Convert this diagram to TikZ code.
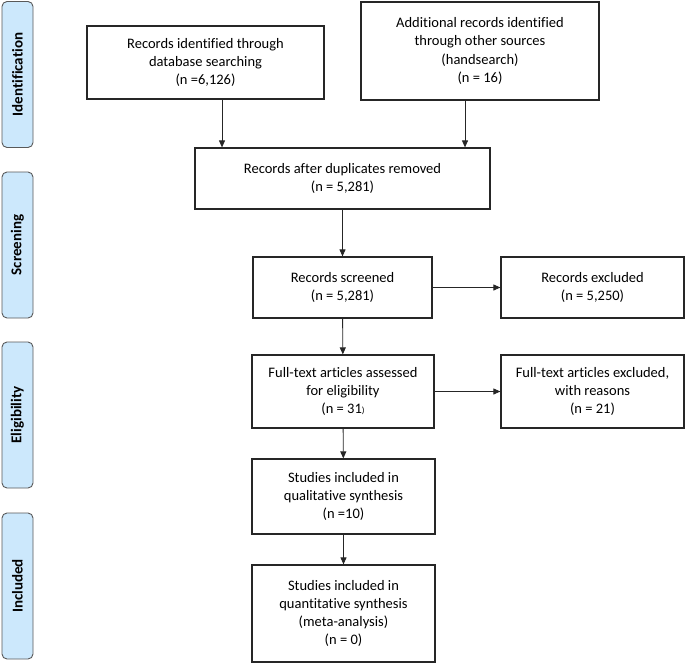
\documentclass[tikz,border=0pt]{standalone}
\usepackage{fontspec}
\setmainfont[RawFeature={-liga;-dlig;-calt}]{Carlito}
\usetikzlibrary{arrows.meta}
\definecolor{phaseblue}{RGB}{204,232,252}

\begin{document}
\begin{tikzpicture}[
	x=1pt, y=-1pt,
	every node/.style={font=\fontsize{14.5}{18.3}\selectfont},
	recbox/.style={draw=black!85, line width=1.2pt, align=center, inner sep=2pt},
	phase/.style={draw=black!65, line width=0.9pt, fill=phaseblue, rounded corners=5pt,
		rotate=90, minimum width=146, minimum height=31, inner sep=0pt,
		font=\fontsize{15}{17}\selectfont\bfseries},
	flow/.style={-{Triangle[length=7pt,width=6pt]}, line width=0.9pt, black!85}]
\useasboundingbox (0,0) rectangle (685,664);
\node[phase] (ident) at (17.5,74.5) {Identification};
\node[phase] (screen) at (17.5,245) {Screening};
\node[phase] (elig) at (17.5,415) {Eligibility};
\node[phase] (incl) at (17.5,586) {Included};
\node[recbox, minimum width=237, minimum height=73] (db) at (205.5,62.5)
	{Records identified through\\ database searching\\ (n =6,126)};
\node[recbox, minimum width=238, minimum height=98] (other) at (480,51)
	{Additional records identified\\ through other sources\\ (handsearch)\\ (n = 16)};
\node[recbox, minimum width=295, minimum height=61] (dup) at (342.5,178.5)
	{Records after duplicates removed\\ (n = 5,281)};
\node[recbox, minimum width=179, minimum height=61] (screened) at (342.5,287.5)
	{Records screened\\ (n = 5,281)};
\node[recbox, minimum width=183, minimum height=61] (excl) at (592.5,287.5)
	{Records excluded\\ (n = 5,250)};
\node[recbox, minimum width=182, minimum height=73] (full) at (343,391.5)
	{Full-text articles assessed\\ for eligibility\\ (n = 31{\fontsize{9}{9}\selectfont)}};
\node[recbox, minimum width=183, minimum height=73] (fullexcl) at (592.5,391.5)
	{Full-text articles excluded,\\ with reasons\\ (n = 21)};
\node[recbox, minimum width=183, minimum height=75] (qual) at (343.5,496.5)
	{Studies included in\\ qualitative synthesis\\ (n =10)};
\node[recbox, minimum width=183, minimum height=97] (quant) at (343.5,613.5)
	{Studies included in\\ quantitative synthesis\\ (meta-analysis)\\ (n = 0)};
\draw[flow] ([xshift=16.5]db.south) -- ([xshift=16.5]db.south |- dup.north);
\draw[flow] ([xshift=-15]other.south) -- ([xshift=-15]other.south |- dup.north);
\draw[flow] (dup) -- (screened);
\draw[flow] (screened) -- (excl);
\draw[flow] (screened) -- (full);
\draw[flow] (full) -- (fullexcl);
\draw[flow] (full) -- (qual);
\draw[flow] (qual) -- (quant);
\end{tikzpicture}
\end{document}
